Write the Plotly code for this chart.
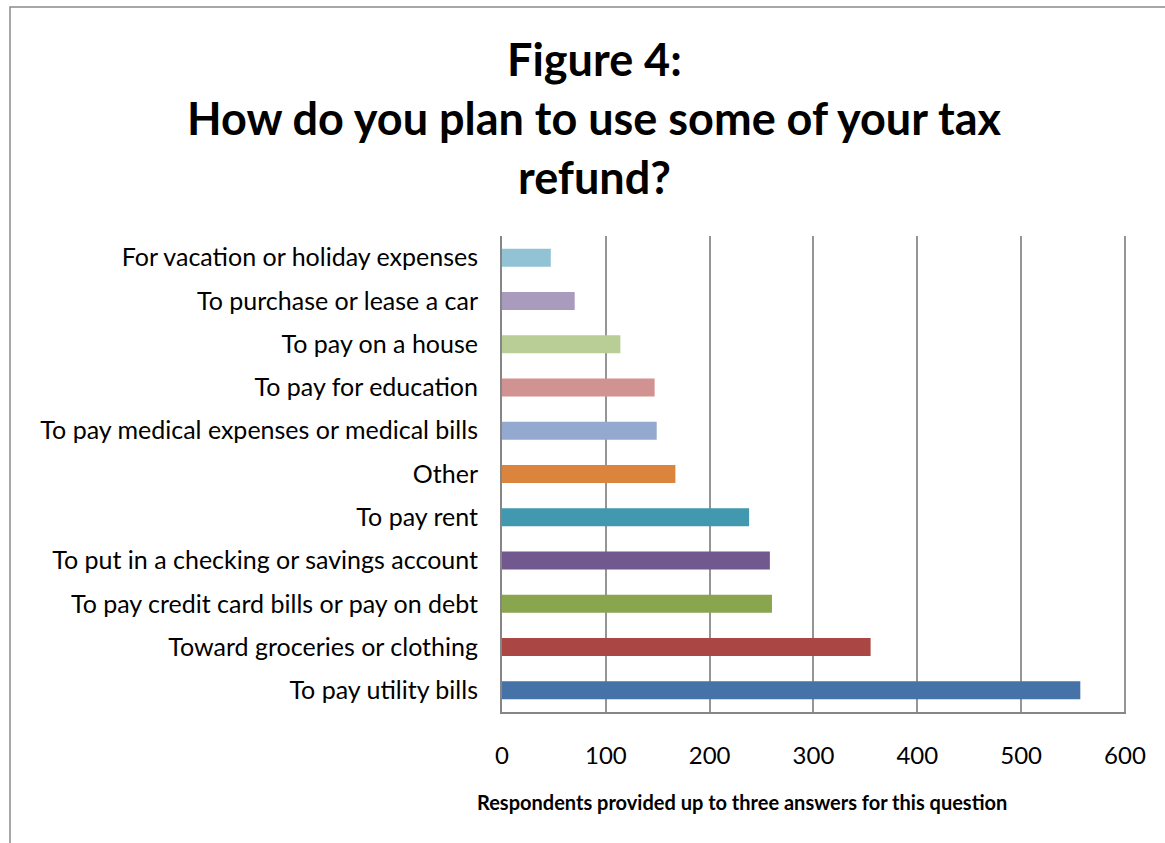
import plotly.graph_objects as go

# Survey answers, listed bottom-to-top as they appear on the category axis
categories = [
    "To pay utility bills",
    "Toward groceries or clothing",
    "To pay credit card bills or pay on debt",
    "To put in a checking or savings account",
    "To pay rent",
    "Other",
    "To pay medical expenses or medical bills",
    "To pay for education",
    "To pay on a house",
    "To purchase or lease a car",
    "For vacation or holiday expenses",
]
respondents = [557, 355, 260, 258, 238, 167, 149, 147, 114, 70, 47]
bar_colors = [
    "#4572A7", "#AA4643", "#89A54E", "#71588F", "#4198AF", "#DB843D",
    "#93A9CF", "#D19392", "#B9CD96", "#A99BBD", "#92C3D4",
]
x_ticks = [0, 100, 200, 300, 400, 500, 600]

title_lines = ["Figure 4:", "How do you plan to use some of your tax", "refund?"]
axis_note = "Respondents provided up to three answers for this question"

FONT = "Lato"
W, H = 1165, 843
L, R, T, B = 502, 39, 236, 131
plot_w = W - L - R
plot_h = H - T - B


def px_x(p):
    return (p - L) / plot_w


def px_y(p):
    return (H - B - p) / plot_h


fig = go.Figure(
    go.Bar(
        x=respondents,
        y=categories,
        orientation="h",
        marker=dict(color=bar_colors, line=dict(width=0)),
        hoverinfo="x+y",
    )
)

fig.update_layout(
    width=W,
    height=H,
    margin=dict(l=L, r=R, t=T, b=B),
    paper_bgcolor="white",
    plot_bgcolor="white",
    bargap=0.584,
    showlegend=False,
    font=dict(family=FONT, color="black"),
)

fig.update_xaxes(
    range=[0, 601],
    tickvals=x_ticks,
    ticktext=[str(v) for v in x_ticks],
    tickfont=dict(family=FONT, size=24, color="black"),
    showgrid=True,
    gridcolor="#959595",
    gridwidth=2,
    zeroline=False,
    showline=True,
    linecolor="#868686",
    linewidth=2,
    ticks="",
    ticklabelstandoff=21,
    fixedrange=True,
)

fig.update_yaxes(
    categoryorder="array",
    categoryarray=categories,
    tickfont=dict(family=FONT, size=25, color="black"),
    showgrid=False,
    zeroline=False,
    showline=True,
    linecolor="#868686",
    linewidth=2,
    ticks="",
    ticklabelstandoff=17,
    fixedrange=True,
)

annotations = []
for text, yc in zip(title_lines, [59, 118, 177]):
    annotations.append(
        dict(
            text=f"<b>{text}</b>",
            x=px_x(594), y=px_y(yc),
            xref="paper", yref="paper",
            xanchor="center", yanchor="middle",
            showarrow=False,
            font=dict(family=FONT, size=45, color="black"),
        )
    )
annotations.append(
    dict(
        text=f"<b>{axis_note}</b>",
        x=px_x(742), y=px_y(802),
        xref="paper", yref="paper",
        xanchor="center", yanchor="middle",
        showarrow=False,
        font=dict(family=FONT, size=20, color="black"),
    )
)
fig.update_layout(annotations=annotations)

# Thin frame around the chart area, running off the right and bottom edges
fig.add_shape(
    type="rect",
    xref="paper", yref="paper",
    x0=px_x(10), x1=px_x(W + 20),
    y0=px_y(H + 20), y1=px_y(7),
    line=dict(color="#8a8a8a", width=1.5),
    fillcolor="rgba(0,0,0,0)",
    layer="below",
)

fig.write_html("out.html")
